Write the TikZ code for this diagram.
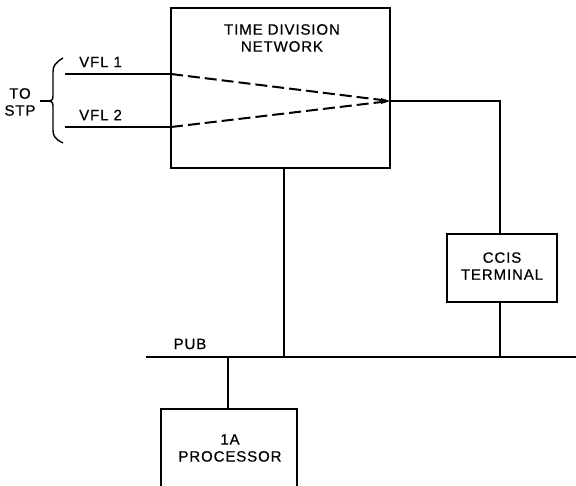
\documentclass[tikz,border=0pt]{standalone}
\usepackage{fontspec}
\setmainfont{Liberation Sans}[LetterSpace=6,FakeBold=0.6]
\usetikzlibrary{arrows.meta}
\begin{document}
\begin{tikzpicture}[x=1pt,y=-1pt,
  box/.style={draw,line width=1.6pt,inner sep=0pt},
  lbl/.style={font=\fontsize{15}{17}\selectfont,align=center,inner sep=0pt},
  wire/.style={line width=2pt},
  dwire/.style={line width=2pt,dash pattern=on 12pt off 5pt}]
\useasboundingbox (0,0) rectangle (576,485);
\clip (0,0) rectangle (576,485);
% boxes
\node[box,minimum width=219pt,minimum height=160pt] (tdn) at (280.5,88) {};
\node[lbl] (tdnl) at (282,38) {TIME DIVISION\\NETWORK};
\node[box,minimum width=110pt,minimum height=68pt] (ccis) at (502,268) {};
\node[lbl] (ccisl) at (502,266) {CCIS\\TERMINAL};
\node[box,minimum width=136pt,minimum height=100pt] (proc) at (229,459) {};
\node[lbl] (procl) at (230,448) {1A\\PROCESSOR};
% coordinates
\coordinate (v1a) at (65,74);
\coordinate (v1b) at (171,74);
\coordinate (v2a) at (65,127);
\coordinate (v2b) at (171,127);
\coordinate (conv) at (390,101);
\coordinate (outc) at (500,101);
\coordinate (busl) at (146,357);
\coordinate (busr) at (576,357);
\coordinate (bt) at (284,357);
\coordinate (bc) at (500,357);
\coordinate (bp) at (228,357);
% lines
\draw[wire] (v1a) -- (v1b);
\draw[wire] (v2a) -- (v2b);
\draw[dwire] (v1b) -- (conv);
\draw[dwire] (v2b) -- (conv);
\fill (conv) -- ++(-9,-3) -- ++(0,6) -- cycle;
\draw[wire] (conv) -- (outc) -- (ccis.north -| outc);
\draw[wire] (ccis.south -| outc) -- (bc);
\draw[wire] (tdn.south -| bt) -- (bt);
\draw[wire] (busl) -- (busr);
\draw[wire] (bp) -- (proc.north -| bp);
% labels
\node[lbl,anchor=west] (vfl1) at (79,62) {VFL 1};
\node[lbl,anchor=west] (vfl2) at (79,115) {VFL 2};
\node[lbl] (pub) at (190,344) {PUB};
\node[lbl] (stp) at (20,102) {TO\\STP};
% brace
\coordinate (bt1) at (63,58);
\coordinate (bb1) at (63,143);
\coordinate (bmid) at (52,101);
\coordinate (btick) at (40,101);
\draw[line width=1.4pt] (bt1) .. controls (55,63) and (53,66) .. (53,72) -- (53,96) .. controls (53,99) .. (50,101) .. controls (53,103) .. (53,106) -- (53,130) .. controls (53,136) and (55,139) .. (bb1);
\draw[line width=1.4pt] (bmid) -- (btick);
\end{tikzpicture}
\end{document}
